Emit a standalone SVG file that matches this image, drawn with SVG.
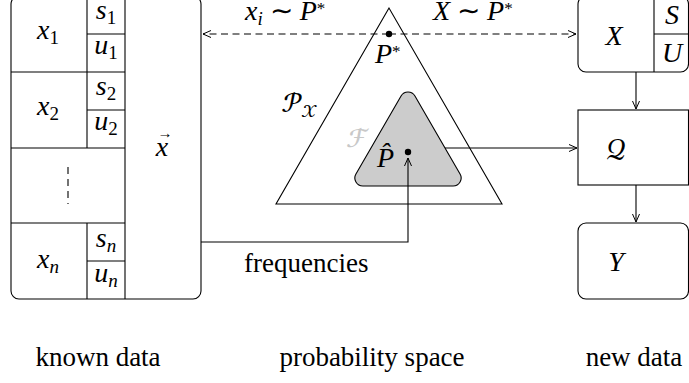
<svg xmlns="http://www.w3.org/2000/svg" width="689" height="383" viewBox="0 0 689 383">
<defs>
<marker id="arr" viewBox="0 0 10 10" refX="9" refY="5" markerWidth="10" markerHeight="10" markerUnits="userSpaceOnUse" orient="auto">
<path d="M1 1.5 L9 5 L1 8.5" fill="none" stroke="#000" stroke-width="1"/>
</marker>
<style>
.ln{fill:none;stroke:#000;stroke-width:1.1}
.m{font-family:'Liberation Serif',serif;font-style:italic;font-size:28px;fill:#000}
.cal{font-family:'STIX Two Math',STIXGeneral,serif;font-style:normal}
.r{font-style:normal}
.sb{font-size:19px}
.st{font-size:17px}
.t{font-family:'Liberation Serif',serif;font-size:27px;fill:#000}
</style>
</defs>
<rect width="689" height="383" fill="#fff"/>

<g id="known">
<rect class="ln" x="11" y="-4" width="190" height="303" rx="8"/>
<path class="ln" d="M87 -4 V148 M87 223 V299 M125 -4 V299 M11 72 H125 M11 148 H125 M11 223 H125 M87 34 H125 M87 110 H125 M87 261 H125"/>
<path class="ln" d="M68 167 V204" stroke-dasharray="7 5"/>
<text class="m" x="48" y="39" text-anchor="middle">x<tspan class="sb r" dy="5">1</tspan></text>
<text class="m" x="106" y="19" text-anchor="middle">s<tspan class="sb r" dy="5">1</tspan></text>
<text class="m" x="106" y="54" text-anchor="middle">u<tspan class="sb r" dy="5">1</tspan></text>
<text class="m" x="48" y="115" text-anchor="middle">x<tspan class="sb r" dy="5">2</tspan></text>
<text class="m" x="106" y="95" text-anchor="middle">s<tspan class="sb r" dy="5">2</tspan></text>
<text class="m" x="106" y="130" text-anchor="middle">u<tspan class="sb r" dy="5">2</tspan></text>
<text class="m" x="48" y="268" text-anchor="middle">x<tspan class="sb" dy="5">n</tspan></text>
<text class="m" x="106" y="247" text-anchor="middle">s<tspan class="sb" dy="5">n</tspan></text>
<text class="m" x="106" y="282" text-anchor="middle">u<tspan class="sb" dy="5">n</tspan></text>
<text class="m" x="162" y="156" text-anchor="middle">x</text>
<text class="t" x="165" y="138" text-anchor="middle" style="font-size:15px">→</text>
</g>

<g id="space">
<path class="ln" d="M389 8 L276 204 H502 Z"/>
<path d="M401.06 96 A8 8 0 0 1 414.94 96 L460.06 174 A8 8 0 0 1 453.14 186 L362.86 186 A8 8 0 0 1 355.94 174 Z" fill="#cccccc" stroke="#000" stroke-width="1.1"/>
<circle cx="389" cy="34" r="3.2" fill="#000"/>
<circle cx="408" cy="152" r="3.2" fill="#000"/>
<text class="m" x="375" y="63">P<tspan class="st r" dy="-6">*</tspan></text>
<text class="m cal" x="282" y="112">&#x1D4AB;<tspan class="sb" dy="5">&#x1D4B3;</tspan></text>
<text class="m cal" x="347" y="147" style="fill:#c8c8c8">&#x2131;</text>
<text class="m" x="377" y="167">P&#x302;</text>
</g>

<g id="newX">
<rect class="ln" x="578" y="-4" width="110.5" height="76" rx="8"/>
<path class="ln" d="M654 -4 V72 M654 34 H689"/>
<text class="m" x="614" y="45" text-anchor="middle">X</text>
<text class="m" x="672" y="24" text-anchor="middle">S</text>
<text class="m" x="672" y="62" text-anchor="middle">U</text>
</g>
<g id="Q">
<rect class="ln" x="578" y="110" width="110.5" height="75"/>
<text class="m cal" x="616" y="158" text-anchor="middle">&#x1D4AC;</text>
</g>
<g id="Y">
<rect class="ln" x="578" y="223" width="110.5" height="76" rx="8"/>
<text class="m" x="616" y="271" text-anchor="middle">Y</text>
</g>

<g id="connectors">
<path class="ln" d="M389 34 H203" stroke-dasharray="7 4.5" marker-end="url(#arr)"/>
<path class="ln" d="M389 34 H576" stroke-dasharray="7 4.5" marker-end="url(#arr)"/>
<path class="ln" d="M201 242 H408 V158" marker-end="url(#arr)"/>
<path class="ln" d="M445 148 H577" marker-end="url(#arr)"/>
<path class="ln" d="M636 72 V109" marker-end="url(#arr)"/>
<path class="ln" d="M636 185 V222" marker-end="url(#arr)"/>
</g>

<g id="labels">
<text class="m" x="245" y="20">x<tspan class="sb" dy="5">i</tspan><tspan class="r" dy="-5"> ∼ </tspan>P<tspan class="st r" dy="-6">*</tspan></text>
<text class="m" x="433" y="20">X<tspan class="r"> ∼ </tspan>P<tspan class="st r" dy="-6">*</tspan></text>
<text class="t" x="244" y="272">frequencies</text>
<text class="t" x="98" y="366" text-anchor="middle">known data</text>
<text class="t" x="372" y="366" text-anchor="middle">probability space</text>
<text class="t" x="634" y="366" text-anchor="middle">new data</text>
</g>
</svg>
